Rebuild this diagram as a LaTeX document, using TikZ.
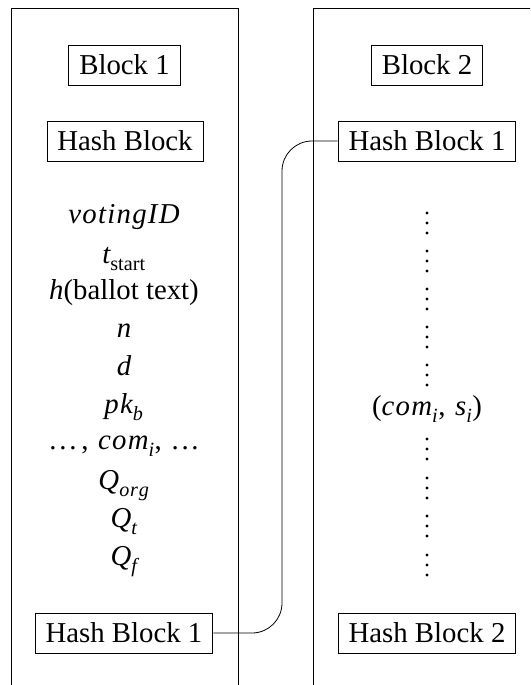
\documentclass[tikz,border=0pt]{standalone}
\usepackage{amsmath}
\usepackage{unicode-math}
\setmainfont{Liberation Serif}
\setmathfont{latinmodern-math.otf}
\setmathfont[range={up,"28,"29,"2C}]{Liberation Serif}
\setmathfont[range=it]{Liberation Serif Italic}
% spaced baseline dots and a small letter gap for math italic words
\newcommand\spdots{\text{.\kern2.8pt.\kern2.8pt.}}
\newcommand\ls{\mkern0.8mu}
\begin{document}
\begin{tikzpicture}[x=1pt,y=-1pt,
  line width=0.8pt,
  every node/.style={font=\fontsize{28.8}{34}\selectfont},
  blk/.style={draw, inner xsep=10.5pt, inner ysep=0pt, minimum height=40pt},
  item/.style={anchor=base, inner sep=0pt},
  link/.style={rounded corners=30pt}]
\useasboundingbox (0,0) rectangle (530,685);
\clip (0,0) rectangle (530,685);

% the two chain blocks (open at the bottom)
\draw (11,8) -- (238,8) (11,8) -- (11,700) (238,8) -- (238,700);
\draw (313,8) -- (560,8) (313,8) -- (313,700);

% block 1
\node[blk] (b1) at (124.5,65) {Block 1};
\node[blk] (h0) at (125,141) {Hash Block};
\node[item] (vid) at (124,223) {$v\ls o\ls t\ls i\ls n\ls g\ls I\ls D$};
\node[item] (ts)  at (124,263) {$t_{\mathrm{start}}$};
\node[item] (hb)  at (124,299) {$h(\text{ballot text})$};
\node[item] (n)   at (124,337) {$n$};
\node[item] (d)   at (124,375) {$d$};
\node[item] (pk)  at (124,413) {$p\ls k_b$};
\node[item] (com) at (124,449) {$\spdots\,,\,c\ls o\ls m_i,\,\spdots$};
\node[item] (qo)  at (124,489) {$Q_{o\ls r\ls g}$};
\node[item] (qt)  at (124,527) {$Q_t$};
\node[item] (qf)  at (124,565) {$Q_f$};
\node[blk] (h1a) at (124,633) {Hash Block 1};

% block 2
\node[blk] (b2) at (427,65) {Block 2};
\node[blk] (h1b) at (427,141) {Hash Block 1};
\node[item] (cs) at (427,415) {$(c\ls o\ls m_i,\,s_i)$};
\node[blk] (h2) at (427,633) {Hash Block 2};

% vertical dots around the commitment entry
\foreach \c in {223,261,299,337,375,449,488,526,565}
  \foreach \o in {-10,0,10}
    \fill (427,\c+\o) circle (1.6pt);

% hash link from block 1 to block 2
\coordinate (route) at (282,400);
\draw[link] (h1a.east) -| (route) |- (h1b.west);
\end{tikzpicture}
\end{document}
